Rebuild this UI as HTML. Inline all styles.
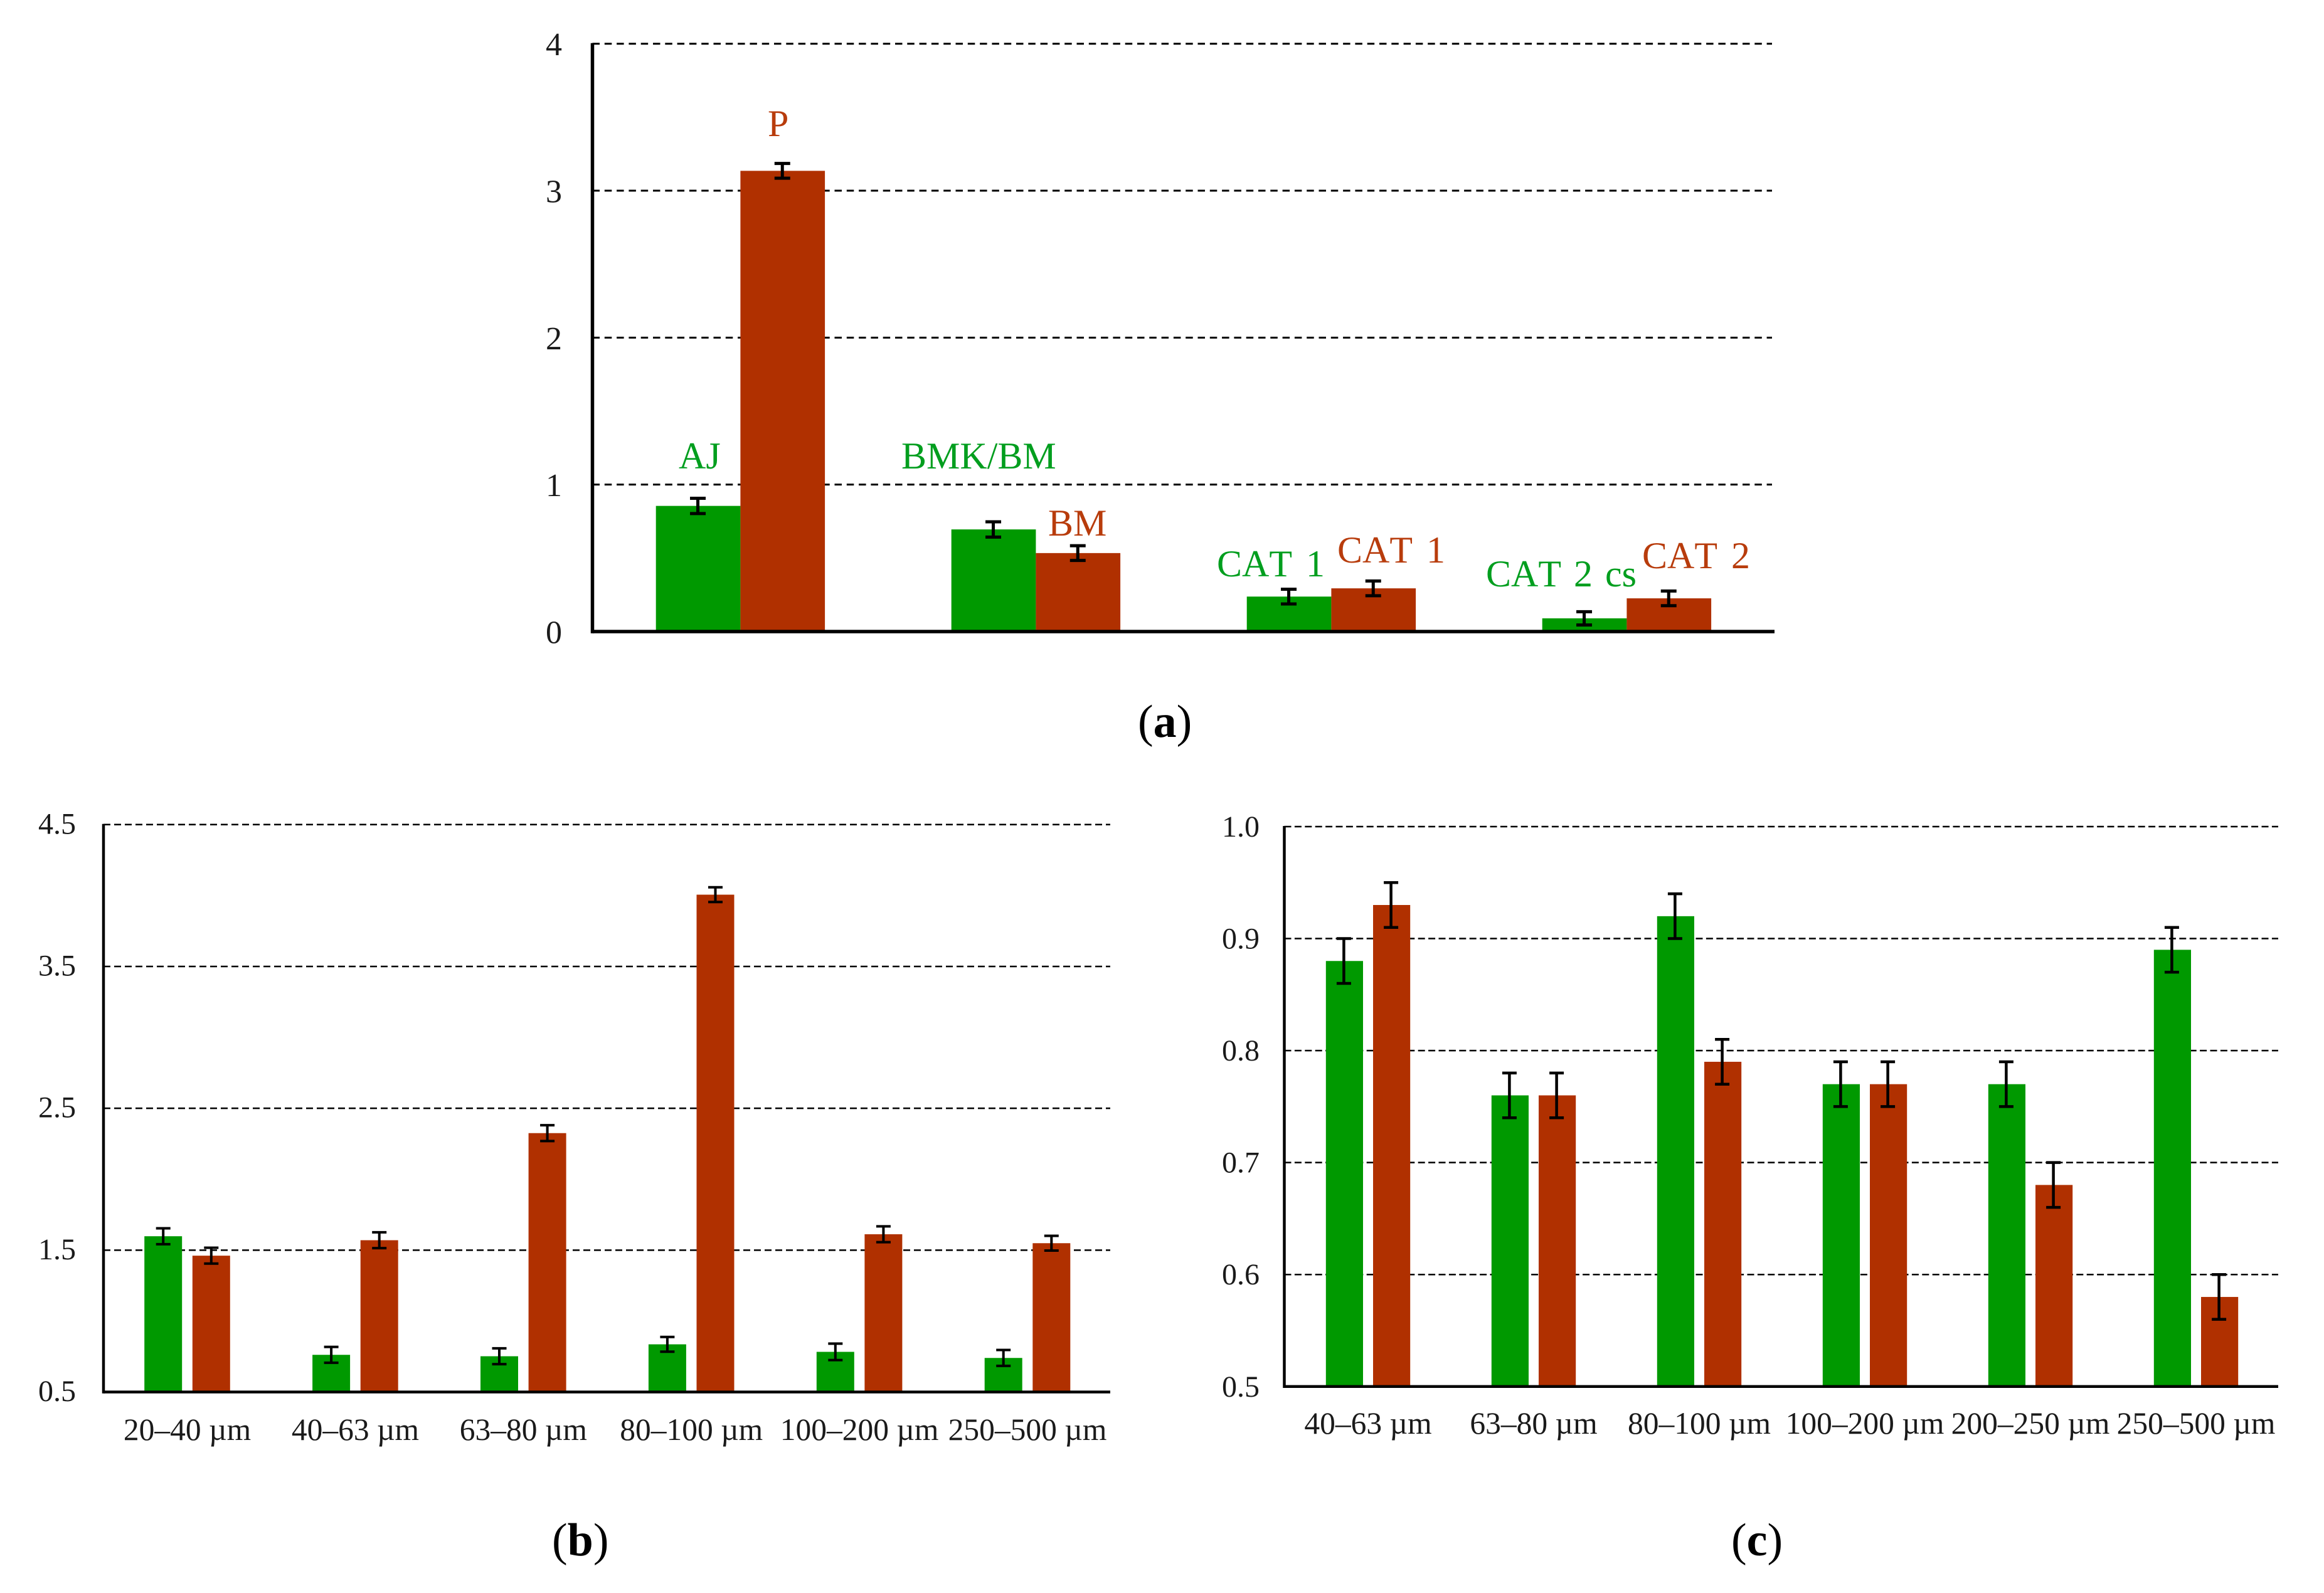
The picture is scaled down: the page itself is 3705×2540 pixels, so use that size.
<!DOCTYPE html>
<html lang="en">
<head>
<meta charset="utf-8">
<title>Bar charts (a), (b), (c)</title>
<style>
html,body{margin:0;padding:0;background:#fff;}
svg{display:block;font-family:"Liberation Serif",serif;}
.tick{fill:#1a1a1a;}
.gl{fill:#009e1e;font-size:60px;font-kerning:none;}
.rl{fill:#b83c0c;font-size:60px;font-kerning:none;}
.cat{word-spacing:7px;}
.cap{fill:#000;font-size:74px;}
</style>
</head>
<body>
<svg id="figure" xmlns="http://www.w3.org/2000/svg" width="3705" height="2540" viewBox="0 0 3705 2540">
  <rect x="0" y="0" width="3705" height="2540" fill="#fff"/>
  <g id="chart-a"></g>
  <g id="chart-b"></g>
  <g id="chart-c"></g>

  <g>
    <text class="rl" x="1224" y="217">P</text>
    <text class="gl" x="1082" y="747">AJ</text>
    <text class="gl" x="1437" y="747">BMK/BM</text>
    <text class="rl" x="1671" y="854">BM</text>
    <text class="gl cat" x="1940" y="919">CAT 1</text>
    <text class="rl cat" x="2132" y="897">CAT 1</text>
    <text class="gl cat" x="2369" y="935" style="word-spacing:5px">CAT 2 cs</text>
    <text class="rl cat" x="2618" y="906">CAT 2</text>
  </g>

  <text class="cap" x="1814" y="1175">(<tspan font-weight="bold">a</tspan>)</text>
  <text class="cap" x="880" y="2480">(<tspan font-weight="bold">b</tspan>)</text>
  <text class="cap" x="2760" y="2480">(<tspan font-weight="bold">c</tspan>)</text>
</svg>

<script>
const aGroups = ['AJ / P', 'BMK/BM / BM', 'CAT 1 / CAT 1', 'CAT 2 cs / CAT 2'];
const aGreen = [0.855, 0.695, 0.238, 0.09];
const aRed = [3.135, 0.534, 0.294, 0.226];
const aGreenErr = [0.052, 0.052, 0.05, 0.045];
const aRedErr = [0.05, 0.05, 0.05, 0.05];
const aTicks = [0, 1, 2, 3, 4];
const aTickLabels = ['0', '1', '2', '3', '4'];

const bCategories = ['20–40 µm', '40–63 µm', '63–80 µm', '80–100 µm', '100–200 µm', '250–500 µm'];
const bGreen = [1.598, 0.762, 0.752, 0.836, 0.783, 0.74];
const bRed = [1.461, 1.57, 2.325, 4.006, 1.612, 1.549];
const bGreenErr = [0.056, 0.056, 0.056, 0.052, 0.058, 0.056];
const bRedErr = [0.056, 0.056, 0.056, 0.052, 0.056, 0.052];
const bTicks = [0.5, 1.5, 2.5, 3.5, 4.5];
const bTickLabels = ['0.5', '1.5', '2.5', '3.5', '4.5'];

const cCategories = ['40–63 µm', '63–80 µm', '80–100 µm', '100–200 µm', '200–250 µm', '250–500 µm'];
const cGreen = [0.88, 0.76, 0.92, 0.77, 0.77, 0.89];
const cRed = [0.93, 0.76, 0.79, 0.77, 0.68, 0.58];
const cGreenErr = [0.02, 0.02, 0.02, 0.02, 0.02, 0.02];
const cRedErr = [0.02, 0.02, 0.02, 0.02, 0.02, 0.02];
const cTicks = [0.5, 0.6, 0.7, 0.8, 0.9, 1.0];
const cTickLabels = ['0.5', '0.6', '0.7', '0.8', '0.9', '1.0'];

const SVGNS = 'http://www.w3.org/2000/svg';

function makeEl(tag, parent, props) {
  const el = document.createElementNS(SVGNS, tag);
  for (const k in props) el.setAttribute(k, props[k]);
  parent.appendChild(el);
  return el;
}

function drawChart(id, series, frame) {
  const root = document.getElementById(id);
  const yMin = series.ticks[0];
  const yMax = series.ticks[series.ticks.length - 1];
  const yScale = function (v) {
    return frame.yBase - (v - yMin) / (yMax - yMin) * (frame.yBase - frame.yTop);
  };
  const xCenter = function (i) {
    return frame.x0 + i * frame.step;
  };

  // gridlines and tick labels
  series.ticks.forEach(function (t, i) {
    const y = yScale(t);
    if (t !== yMin) {
      const g = makeEl('line', root, {
        x1: frame.axisX, x2: frame.gridEnd, y1: y, y2: y,
        stroke: '#000', 'stroke-width': frame.gridW, 'stroke-dasharray': frame.dash
      });
      
      
    }
    const lab = makeEl('text', root, {
      class: 'tick', x: frame.tickX, y: y + frame.tickDy,
      'text-anchor': 'end', 'font-size': frame.tickSize
    });
    
    
    lab.textContent = series.tickLabels[i];
  });

  // bars
  series.green.forEach(function (v, i) {
    const top = yScale(v);
    const b = makeEl('rect', root, {
      x: xCenter(i) - frame.gap / 2 - frame.barW, y: top,
      width: frame.barW, height: frame.yBase - top, fill: '#009900'
    });
    
    
  });
  series.red.forEach(function (v, i) {
    const top = yScale(v);
    const b = makeEl('rect', root, {
      x: xCenter(i) + frame.gap / 2, y: top,
      width: frame.barW, height: frame.yBase - top, fill: '#b03000'
    });
    
    
  });

  // error bars
  function errorBar(cx, v, e, name) {
    const g = makeEl('g', root, {});
    
    
    const yHi = yScale(v + e);
    const yLo = yScale(v - e);
    makeEl('line', g, { x1: cx, x2: cx, y1: yHi, y2: yLo, stroke: '#000', 'stroke-width': frame.errW });
    makeEl('line', g, { x1: cx - frame.capW / 2, x2: cx + frame.capW / 2, y1: yHi, y2: yHi, stroke: '#000', 'stroke-width': frame.errCap });
    makeEl('line', g, { x1: cx - frame.capW / 2, x2: cx + frame.capW / 2, y1: yLo, y2: yLo, stroke: '#000', 'stroke-width': frame.errCap });
  }
  series.green.forEach(function (v, i) {
    errorBar(xCenter(i) - frame.gap / 2 - frame.barW / 2 + frame.errDx, v, series.greenErr[i], 'error-bar-green');
  });
  series.red.forEach(function (v, i) {
    errorBar(xCenter(i) + frame.gap / 2 + frame.barW / 2 + frame.errDx, v, series.redErr[i], 'error-bar-red');
  });

  // axes
  const yAxis = makeEl('line', root, {
    x1: frame.axisX, x2: frame.axisX, y1: frame.yTop - 1, y2: frame.yBase + frame.axisW / 2,
    stroke: '#000', 'stroke-width': frame.axisW
  });
  
  
  const xAxis = makeEl('line', root, {
    x1: frame.axisX, x2: frame.axisEnd, y1: frame.yBase, y2: frame.yBase,
    stroke: '#000', 'stroke-width': frame.axisW
  });
  
  

  // category labels
  if (series.categories) {
    series.categories.forEach(function (c, i) {
      const lab = makeEl('text', root, {
        class: 'tick', x: xCenter(i), y: frame.catY,
        'text-anchor': 'middle', 'font-size': frame.catSize
      });
      
      
      lab.textContent = c;
    });
  }
}

drawChart('chart-a',
  { green: aGreen, red: aRed, greenErr: aGreenErr, redErr: aRedErr, ticks: aTicks, tickLabels: aTickLabels },
  { x0: 1180.4, step: 471, barW: 134.7, gap: 0, errDx: -0.5, yTop: 69.7, yBase: 1007, axisX: 944.5, axisEnd: 2829, gridEnd: 2825,
    axisW: 5.5, gridW: 3, dash: '11.5 7.8', errW: 5, errCap: 5, capW: 25, tickX: 896, tickDy: 18.5, tickSize: 52 });

drawChart('chart-b',
  { green: bGreen, red: bRed, greenErr: bGreenErr, redErr: bRedErr, ticks: bTicks, tickLabels: bTickLabels, categories: bCategories },
  { x0: 298.5, step: 267.9, barW: 60, gap: 16.6, errDx: 0, yTop: 1314.8, yBase: 2219.5, axisX: 165, axisEnd: 1770, gridEnd: 1770,
    axisW: 4.5, gridW: 2.5, dash: '11 6', errW: 4, errCap: 4, capW: 23, tickX: 121, tickDy: 14.5, tickSize: 48, catY: 2296, catSize: 49.5 });

drawChart('chart-c',
  { green: cGreen, red: cRed, greenErr: cGreenErr, redErr: cRedErr, ticks: cTicks, tickLabels: cTickLabels, categories: cCategories },
  { x0: 2181, step: 264, barW: 59.2, gap: 16, errDx: -1, yTop: 1318, yBase: 2210.8, axisX: 2047.5, axisEnd: 3632, gridEnd: 3632,
    axisW: 4.5, gridW: 2.5, dash: '11 5.4', errW: 4.5, errCap: 4.5, capW: 23, tickX: 2008, tickDy: 16, tickSize: 48, catY: 2286, catSize: 49.5 });
</script>
</body>
</html>
